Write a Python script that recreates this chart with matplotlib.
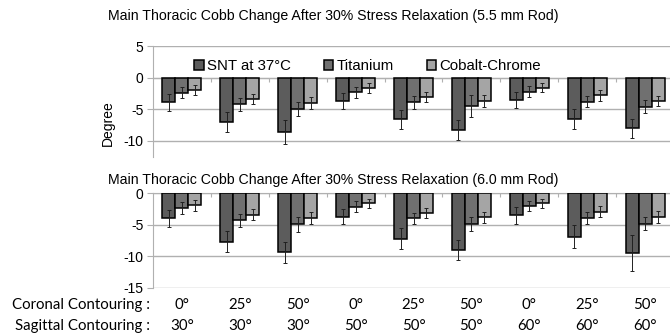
import numpy as np
import matplotlib
matplotlib.use('Agg')
import matplotlib.pyplot as plt
from matplotlib.transforms import blended_transform_factory

plt.rcParams['font.family'] = ['Liberation Sans', 'DejaVu Sans']
plt.rcParams['axes.unicode_minus'] = False

# data
series = ['SNT at 37°C', 'Titanium', 'Cobalt-Chrome']
coronal = ['0°', '25°', '50°', '0°', '25°', '50°', '0°', '25°', '50°']
sagittal = ['30°', '30°', '30°', '50°', '50°', '50°', '60°', '60°', '60°']

# 5.5 mm rod
snt_55 = [-3.9, -7.0, -8.6, -3.7, -6.6, -8.3, -3.5, -6.5, -8.0]
ti_55 = [-2.4, -4.2, -5.0, -2.3, -3.9, -4.5, -2.2, -3.8, -4.6]
cc_55 = [-1.9, -3.4, -4.0, -1.7, -3.1, -3.7, -1.6, -2.8, -3.7]
snt_55_err = [1.3, 1.6, 1.85, 1.3, 1.5, 1.6, 1.25, 1.55, 1.5]
ti_55_err = [0.9, 1.0, 1.1, 0.85, 1.0, 1.8, 0.8, 0.9, 1.0]
cc_55_err = [0.8, 0.85, 0.95, 0.8, 0.8, 1.0, 0.75, 0.9, 0.85]

# 6.0 mm rod
snt_60 = [-4.0, -7.7, -9.4, -3.7, -7.2, -9.0, -3.5, -6.9, -9.5]
ti_60 = [-2.4, -4.3, -4.9, -2.1, -4.0, -4.9, -2.0, -3.9, -4.8]
cc_60 = [-1.9, -3.4, -3.9, -1.6, -3.1, -3.8, -1.6, -2.9, -3.7]
snt_60_err = [1.4, 1.65, 1.6, 1.25, 1.65, 1.65, 1.3, 1.8, 2.85]
ti_60_err = [0.95, 1.05, 1.2, 0.8, 0.9, 1.15, 0.8, 1.0, 1.05]
cc_60_err = [0.85, 0.9, 0.9, 0.75, 0.8, 0.9, 0.7, 0.85, 0.95]

colors = ['#5c5c5c', '#707070', '#a5a5a5']
grid_c = '#b0b0b0'

fig = plt.figure(figsize=(6.7, 3.36), dpi=100)
ax1 = fig.add_axes([153/670, 1-157.3/336, 521/670, 111.3/336])
ax2 = fig.add_axes([153/670, 1-287.7/336, 521/670, 94.4/336])

x = np.arange(len(coronal))
w = 0.224


def draw(ax, vals, errs, ylim, yticks):
    handles = []
    for k in range(3):
        b = ax.bar(x + (k-1)*w, vals[k], w, color=colors[k], edgecolor='black',
                   linewidth=1.1, label=series[k], zorder=3)
        ax.errorbar(x + (k-1)*w, vals[k], yerr=errs[k], fmt='none', ecolor='#202020',
                    elinewidth=0.7, capsize=1.6, capthick=0.7, zorder=4)
        handles.append(b)
    ax.set_xlim(-0.5, len(coronal) - 0.5)
    ax.set_ylim(*ylim)
    ax.set_yticks(yticks)
    ax.set_yticklabels([str(t) for t in yticks], fontsize=10)
    ax.grid(axis='y', color=grid_c, linewidth=1.0, zorder=0)
    ax.set_axisbelow(True)
    for s in ['top', 'right']:
        ax.spines[s].set_visible(False)
    ax.spines['left'].set_color(grid_c)
    ax.spines['bottom'].set_position(('data', 0))
    ax.spines['bottom'].set_color(grid_c)
    ax.set_xticks(x[:-1] + 0.5)
    ax.set_xticklabels([])
    ax.tick_params(axis='x', length=3, color=grid_c, direction='out')
    ax.tick_params(axis='y', length=4, color=grid_c, pad=3)
    return handles


h = draw(ax1, [snt_55, ti_55, cc_55], [snt_55_err, ti_55_err, cc_55_err],
         (-12.6, 5), [5, 0, -5, -10])
draw(ax2, [snt_60, ti_60, cc_60], [snt_60_err, ti_60_err, cc_60_err],
     (-15, 0), [0, -5, -10, -15])

fig.legend(h, series, loc='center left', bbox_to_anchor=(194/670, 1-66/336),
           ncol=3, frameon=False, fontsize=10.8, handlelength=0.65, handleheight=0.65,
           handletextpad=0.2, columnspacing=2.2, borderaxespad=0, borderpad=0)

fig.text(333/670, 1-16/336,
         'Main Thoracic Cobb Change After 30% Stress Relaxation (5.5 mm Rod)',
         ha='center', va='center', fontsize=10.2)
fig.text(333/670, 1-180/336,
         'Main Thoracic Cobb Change After 30% Stress Relaxation (6.0 mm Rod)',
         ha='center', va='center', fontsize=10.2)
fig.text(108/670, 1-123/336, 'Degree', rotation=90, ha='center', va='center', fontsize=10)

lab_font = ['Lato', 'DejaVu Sans']
fig.text(150/670, 1-305/336, 'Coronal Contouring :', ha='right', va='center',
         fontsize=10.8, family=lab_font)
fig.text(150/670, 1-326/336, 'Sagittal Contouring :', ha='right', va='center',
         fontsize=10.8, family=lab_font)
tr = blended_transform_factory(ax2.transData, fig.transFigure)
for i in range(len(coronal)):
    ax2.text(x[i], 1-305/336, coronal[i], transform=tr, ha='center', va='center',
             fontsize=10.8, family=lab_font)
    ax2.text(x[i], 1-326/336, sagittal[i], transform=tr, ha='center', va='center',
             fontsize=10.8, family=lab_font)

fig.savefig('out.png', dpi=100)
